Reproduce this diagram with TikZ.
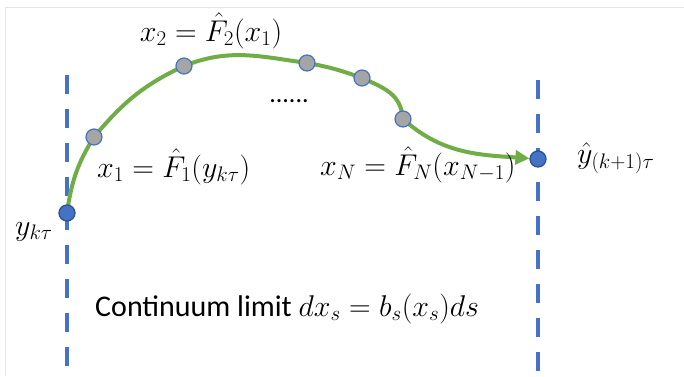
\RequirePackage{fix-cm}
\documentclass[tikz,border=0pt]{standalone}
\usepackage{amsmath}
\usepackage{fontspec}
\newfontfamily\calibri{Carlito}
\usetikzlibrary{arrows.meta,backgrounds}
\definecolor{cgreen}{HTML}{70AD47}
\definecolor{cblue}{HTML}{4472C4}
\definecolor{cdblue}{HTML}{2F528F}
\definecolor{cgray}{HTML}{A5A5A5}
\definecolor{cframe}{HTML}{E6E6E6}
\tikzset{
  vdash/.style={draw=cblue,line width=4pt,dash pattern=on 19pt off 15pt},
  endpt/.style={circle,fill=cblue,draw=cdblue,line width=1.3pt,minimum size=16pt,inner sep=0pt},
  midpt/.style={circle,fill=cgray,draw=cblue,line width=1.2pt,minimum size=16pt,inner sep=0pt},
  flow/.style={draw=cgreen,line width=4pt},
  lab/.style={inner sep=0pt,font=\fontsize{30}{36}\selectfont},
  txt/.style={inner sep=0pt,font=\calibri\fontsize{30}{36}\selectfont}
}
\begin{document}
\begin{tikzpicture}[x=1pt,y=1pt]
\useasboundingbox (0,0) rectangle (684,376);
% faint frame
\draw[cframe,line width=1pt] (5,0) -- (5,369) -- (684,369);
% dashed line ends
\coordinate (L1) at (67,301);
\coordinate (L2) at (67,0);
\coordinate (R1) at (538,296);
\coordinate (R2) at (538,0);
% points
\node[endpt] (y0) at (67,163) {};
\node[midpt] (p1) at (94,239) {};
\node[midpt] (p2) at (184,310) {};
\node[midpt] (p3) at (307,313) {};
\node[midpt] (p4) at (362,298) {};
\node[midpt] (p5) at (403,257) {};
\node[endpt] (yend) at (538,217) {};
\begin{pgfonlayer}{background}
\draw[vdash] (L1) -- (L2);
\draw[vdash] (R1) -- (R2);
\draw[flow] (y0.center) to[out=82,in=238] (p1.center)
  to[out=50,in=205] (p2.center)
  to[out=22,in=172] (p3.center)
  to[out=-10,in=160] (p4.center)
  to[out=-24,in=95,looseness=1.1] (p5.center);
\draw[flow,-{Triangle[length=14pt,width=14pt]}] (p5.center) to[out=-42,in=176] (yend);
\end{pgfonlayer}
% labels
\node[lab,anchor=base] (t2) at (211,335) {$x_2=\hat{F}_2(x_1)$};
\node[lab,anchor=base west] (t1) at (97,199) {$x_1=\hat{F}_1(y_{k\tau})$};
\node[lab,anchor=base west] (tN) at (320,201) {$x_N=\hat{F}_N(x_{N-1})$};
\node[lab,anchor=base west] (ty) at (577,213) {$\hat{y}_{(k+1)\tau}$};
\node[lab,anchor=base west] (t0) at (15,141) {$y_{k\tau}$};
\node[txt,anchor=base,font=\calibri\fontsize{26}{30}\selectfont] (dots) at (289,274) {......};
\node[txt,anchor=base west] (cl) at (95,60) {Continuum limit {\fontsize{30}{36}\selectfont$dx_s=b_s(x_s)ds$}};
\end{tikzpicture}
\end{document}
